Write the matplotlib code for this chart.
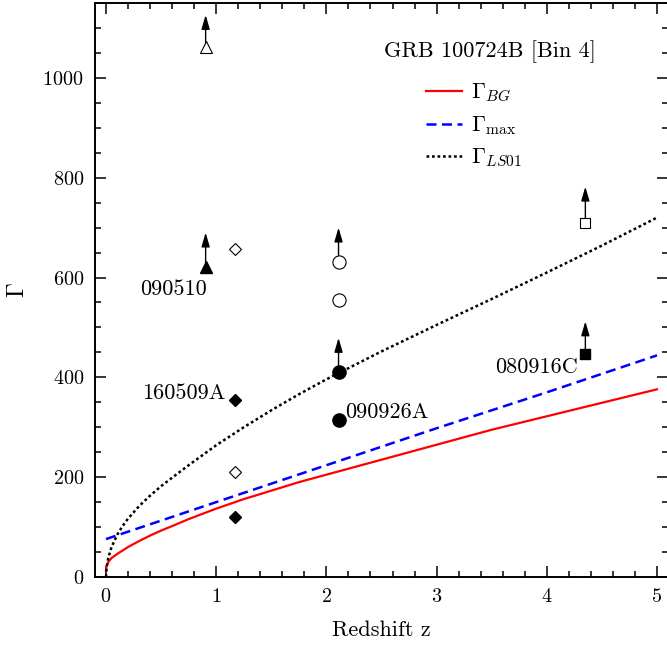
import matplotlib
matplotlib.use("Agg")
import matplotlib.pyplot as plt

plt.rcParams['font.family'] = ['cmr10', 'DejaVu Serif']
plt.rcParams['mathtext.fontset'] = 'cm'
plt.rcParams['axes.formatter.use_mathtext'] = True

# ---- curves ----
z_bg = [0.0, 0.005, 0.02, 0.05, 0.1, 0.2, 0.3, 0.4, 0.5, 0.6, 0.75, 1.0, 1.25, 1.5,
        1.75, 2.0, 2.5, 3.0, 3.5, 4.0, 4.5, 5.0]
g_bg = [12, 22, 30, 38, 46, 60, 72, 83, 93, 102, 116, 137, 156, 173,
        190, 205, 235, 265, 295, 322, 349, 376]

z_max = [0.0, 1.0, 2.0, 3.0, 4.0, 5.0]
g_max = [76, 150, 224, 298, 370, 444]

z_ls = [0.0, 0.005, 0.02, 0.05, 0.1, 0.15, 0.2, 0.3, 0.4, 0.5, 0.6, 0.75, 1.0, 1.25, 1.5,
        1.75, 2.0, 2.5, 3.0, 3.5, 4.0, 4.5, 5.0]
g_ls = [0, 18, 38, 60, 84, 102, 117, 142, 163, 182, 199, 224, 264, 300, 334,
        366, 396, 452, 505, 557, 610, 664, 720]

# ---- points ----
tri_z = 0.904
tri_open = 1062
tri_fill = 622
dia_z = 1.167
dia_open = [657, 210]
dia_fill = [355, 120]
cir_z = 2.11
cir_open = [631, 555]
cir_fill = [411, 315]
sq_z = 4.35
sq_open = 709
sq_fill = 447

# lower limits (arrow) : (z, from, to)
arrows = [(tri_z, 1062, 1126), (tri_z, 622, 690), (cir_z, 631, 700),
          (cir_z, 411, 479), (sq_z, 709, 782), (sq_z, 447, 512)]

labels = [("090510", 0.915, 565, 'right'), ("160509A", 1.085, 357, 'right'),
          ("090926A", 2.17, 319, 'left'), ("080916C", 4.28, 409, 'right')]

fig = plt.figure(figsize=(6.67, 6.49), dpi=100)
ax = fig.add_axes([95/667, 72/649, 573/667, 574/649])

ax.plot(z_bg, g_bg, color='red', lw=1.6, label=r'$\Gamma_{BG}$')
ax.plot(z_max, g_max, color='blue', lw=1.8, ls=(0, (4, 2.2)), label=r'$\Gamma_{\max}$')
ax.plot(z_ls, g_ls, color='black', lw=1.8, ls=(0, (1.1, 1.1)), label=r'$\Gamma_{LS01}$')

for (zz, y0, y1) in arrows:
    ax.annotate('', xy=(zz, y1), xytext=(zz, y0),
                arrowprops=dict(arrowstyle='-|>,head_length=0.85,head_width=0.25',
                                color='black', lw=1.0,
                                mutation_scale=10, shrinkA=0, shrinkB=0),
                zorder=3)

ax.plot([tri_z], [tri_open], marker='^', ms=8, mfc='white', mec='black', mew=0.8, ls='none', zorder=5)
ax.plot([tri_z], [tri_fill], marker='^', ms=8, mfc='black', mec='black', ls='none', zorder=5)
ax.plot([dia_z]*2, dia_open, marker='D', ms=6, mfc='white', mec='black', mew=0.8, ls='none', zorder=5)
ax.plot([dia_z]*2, dia_fill, marker='D', ms=6, mfc='black', mec='black', ls='none', zorder=5)
ax.plot([cir_z]*2, cir_open, marker='o', ms=9.5, mfc='white', mec='black', mew=0.8, ls='none', zorder=5)
ax.plot([cir_z]*2, cir_fill, marker='o', ms=9.5, mfc='black', mec='black', ls='none', zorder=5)
ax.plot([sq_z], [sq_open], marker='s', ms=7.5, mfc='white', mec='black', mew=0.8, ls='none', zorder=5)
ax.plot([sq_z], [sq_fill], marker='s', ms=7.5, mfc='black', mec='black', ls='none', zorder=5)

for (t, zz, gg, ha) in labels:
    ax.text(zz, gg, t, ha=ha, va='baseline', fontsize=16)

ax.text(0.689, 0.915, 'GRB 100724B [Bin 4]', transform=ax.transAxes,
        ha='center', va='center', fontsize=16)

leg = ax.legend(loc='upper left', bbox_to_anchor=(0.578, 0.862), frameon=False,
                fontsize=16, handlelength=1.6, handletextpad=0.4,
                labelspacing=0.45, borderpad=0, borderaxespad=0)

ax.set_xlim(-0.1, 5.1)
ax.set_ylim(0, 1150)
ax.set_xticks([0, 1, 2, 3, 4, 5])
ax.set_xticks([i * 0.2 for i in range(-0, 26)], minor=True)
ax.set_yticks([0, 200, 400, 600, 800, 1000])
ax.set_yticks([i * 50 for i in range(0, 24)], minor=True)
ax.tick_params(which='both', direction='in', top=True, right=True, width=1.1,
               labelsize=14.5, pad=8)
ax.tick_params(which='major', length=8)
ax.tick_params(which='minor', length=4)
for s in ax.spines.values():
    s.set_linewidth(1.4)

ax.set_xlabel('Redshift z', fontsize=16, labelpad=10)
ax.set_ylabel(r'$\Gamma$', fontsize=17, labelpad=10)

fig.savefig('out.png', dpi=100)
